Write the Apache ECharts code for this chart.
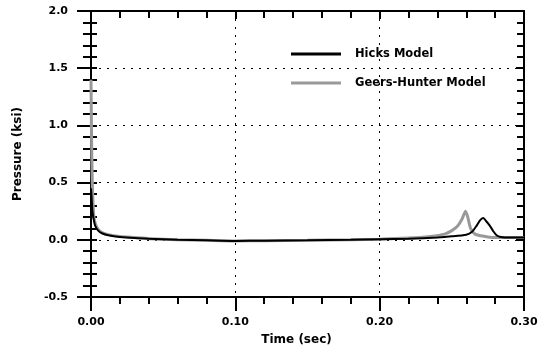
<!DOCTYPE html>
<html>
<head>
<meta charset="utf-8">
<script src="https://cdn.jsdelivr.net/npm/echarts@6/dist/echarts.min.js"></script>
<style>
    html, body { margin: 0; padding: 0; background: #fff; }
    #chart { width: 547px; height: 353px; }
</style>
</head>
<body>
<div id="chart"></div>
<script>
// values
let hicksTime = [0, 0.0005, 0.001, 0.002, 0.003, 0.005, 0.008, 0.012, 0.02, 0.03, 0.04, 0.06, 0.08, 0.10, 0.12, 0.15, 0.18, 0.20, 0.22, 0.24, 0.25, 0.26, 0.264, 0.267, 0.2695, 0.2717, 0.274, 0.2765, 0.279, 0.281, 0.284, 0.29, 0.30];
let hicksPressure = [0.45, 0.35, 0.25, 0.17, 0.12, 0.08, 0.055, 0.04, 0.025, 0.015, 0.01, 0.0, -0.005, -0.01, -0.008, -0.005, 0.0, 0.005, 0.01, 0.02, 0.03, 0.045, 0.07, 0.12, 0.17, 0.19, 0.16, 0.12, 0.07, 0.04, 0.025, 0.02, 0.02];

let geersTime = [0, 0.0003, 0.0006, 0.001, 0.0015, 0.002, 0.003, 0.005, 0.008, 0.012, 0.02, 0.03, 0.04, 0.06, 0.08, 0.10, 0.12, 0.15, 0.18, 0.20, 0.22, 0.235, 0.245, 0.25, 0.254, 0.257, 0.2595, 0.261, 0.263, 0.266, 0.27, 0.275, 0.28, 0.29, 0.30];
let geersPressure = [1.4, 1.0, 0.7, 0.45, 0.3, 0.2, 0.14, 0.09, 0.06, 0.045, 0.03, 0.02, 0.01, 0.0, -0.005, -0.01, -0.008, -0.005, 0.0, 0.005, 0.015, 0.03, 0.05, 0.08, 0.12, 0.18, 0.25, 0.2, 0.1, 0.05, 0.035, 0.025, 0.02, 0.02, 0.02];

let seriesNames = ['Hicks Model', 'Geers-Hunter Model'];

function pairs(xs, ys) {
    return xs.map(function (x, i) {
        return [x, ys[i]];
    });
}

const FONT = 'DejaVu Sans';
const tickStyle = { color: '#000', width: 2 };
const frameLine = { onZero: false, lineStyle: { color: '#000', width: 2 } };

let chart = echarts.init(document.getElementById('chart'), null, { renderer: 'canvas' });

chart.setOption({
    animation: false,
    backgroundColor: '#fff',
    grid: { left: 91, top: 11, right: 23, bottom: 56 },
    legend: {
        orient: 'vertical',
        left: 286,
        top: 42,
        itemWidth: 50,
        itemHeight: 3,
        itemGap: 15,
        textStyle: {
            fontFamily: FONT, fontWeight: 'bold', fontSize: 11.5, color: '#000',
            padding: [0, 0, 0, 9], lineHeight: 14
        },
        data: [
            { name: seriesNames[0], icon: 'rect', itemStyle: { color: '#000' } },
            { name: seriesNames[1], icon: 'rect', itemStyle: { color: '#999' } }
        ]
    },
    xAxis: [
        {
            type: 'value', position: 'bottom', min: 0, max: 0.3, interval: 0.1,
            name: 'Time (sec)', nameLocation: 'middle', nameGap: 37,
            nameTextStyle: { fontFamily: FONT, fontWeight: 'bold', fontSize: 12, color: '#000', padding: [0, 22, 0, 0] },
            axisLine: frameLine,
            axisTick: { length: 14, lineStyle: tickStyle },
            minorTick: { show: true, splitNumber: 5, length: 7, lineStyle: tickStyle },
            axisLabel: {
                margin: 20, fontFamily: FONT, fontWeight: 'bold', fontSize: 11, color: '#000',
                formatter: function (v) { return v.toFixed(2); }
            },
            splitLine: { show: true, lineStyle: { color: '#000', width: 1, type: [2, 6] } }
        },
        {
            type: 'value', position: 'top', min: 0, max: 0.3, interval: 0.1,
            axisLine: frameLine,
            axisTick: { inside: true, length: 8, lineStyle: tickStyle },
            minorTick: { show: true, splitNumber: 5, length: 7, lineStyle: tickStyle },
            axisLabel: { show: false },
            splitLine: { show: false }
        }
    ],
    yAxis: [
        {
            type: 'value', position: 'left', min: -0.5, max: 2, interval: 0.5,
            name: 'Pressure (ksi)', nameLocation: 'middle', nameGap: 67,
            nameTextStyle: { fontFamily: FONT, fontWeight: 'bold', fontSize: 12, color: '#000' },
            axisLine: frameLine,
            axisTick: { length: 14, lineStyle: tickStyle },
            minorTick: { show: true, splitNumber: 5, length: 8, lineStyle: tickStyle },
            axisLabel: {
                margin: 23, fontFamily: FONT, fontWeight: 'bold', fontSize: 11, color: '#000',
                formatter: function (v) { return v.toFixed(1); }
            },
            splitLine: { show: true, lineStyle: { color: '#000', width: 1, type: [2, 6] } }
        },
        {
            // inner half of the left ticks
            type: 'value', position: 'left', min: -0.5, max: 2, interval: 0.5,
            axisLine: { show: false, onZero: false },
            axisTick: { inside: true, length: 6, lineStyle: tickStyle },
            minorTick: { show: true, splitNumber: 5, length: 6, lineStyle: tickStyle },
            axisLabel: { show: false },
            splitLine: { show: false }
        },
        {
            type: 'value', position: 'right', min: -0.5, max: 2, interval: 0.5,
            axisLine: frameLine,
            axisTick: { inside: true, length: 8, lineStyle: tickStyle },
            minorTick: { show: true, splitNumber: 5, length: 7, lineStyle: tickStyle },
            axisLabel: { show: false },
            splitLine: { show: false }
        }
    ],
    series: [
        {
            name: seriesNames[1],
            type: 'line',
            z: 3,
            showSymbol: false,
            smooth: 0.2,
            lineStyle: { color: '#999', width: 3 },
            itemStyle: { color: '#999' },
            data: pairs(geersTime, geersPressure)
        },
        {
            name: seriesNames[0],
            type: 'line',
            z: 4,
            showSymbol: false,
            smooth: 0.2,
            lineStyle: { color: '#000', width: 2 },
            itemStyle: { color: '#000' },
            data: pairs(hicksTime, hicksPressure)
        }
    ]
});
</script>
</body>
</html>
